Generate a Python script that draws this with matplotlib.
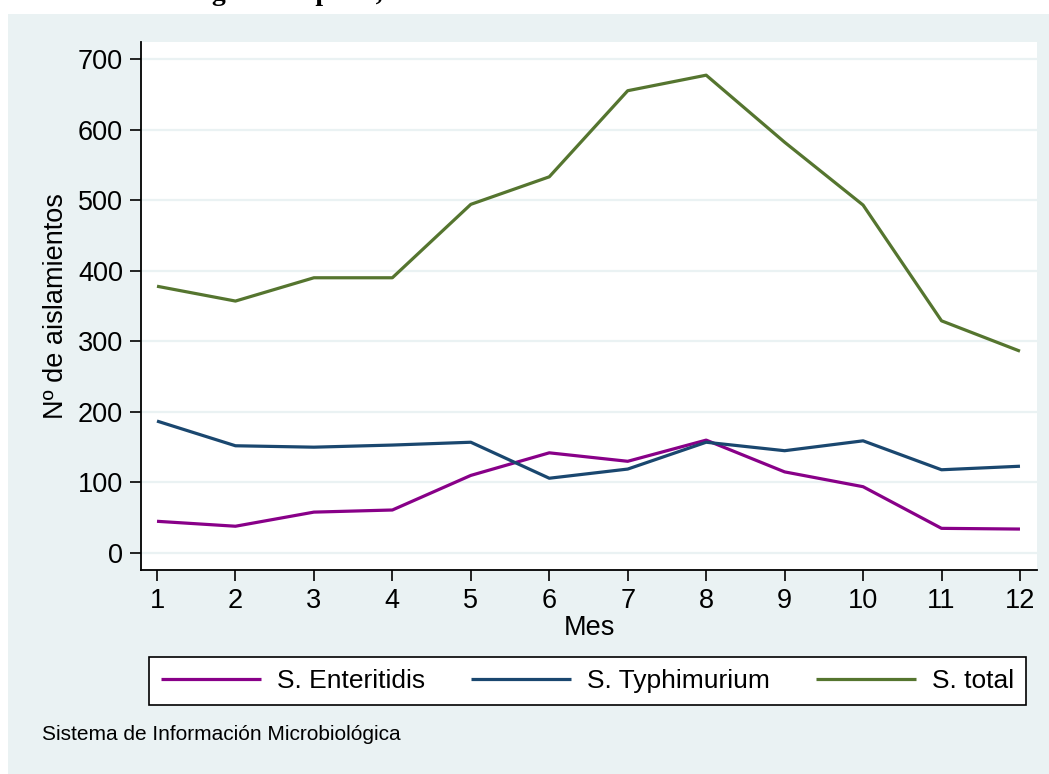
#!/usr/bin/env python3
"""Monthly Salmonella isolations by serotype, Stata-like look."""

import matplotlib
matplotlib.use("Agg")
import matplotlib.pyplot as plt
from matplotlib.patches import Rectangle

MESES = [1, 2, 3, 4, 5, 6, 7, 8, 9, 10, 11, 12]
ENTERITIDIS = [45, 38, 58, 61, 110, 142, 130, 160, 115, 94, 35, 34]
TYPHIMURIUM = [187, 152, 150, 153, 157, 106, 119, 157, 145, 159, 118, 123]
TOTAL = [378, 357, 390, 390, 494, 533, 655, 677, 582, 493, 329, 286]
SERIES = ["S. Enteritidis", "S. Typhimurium", "S. total"]
COLORS = ["#880088", "#1a476f", "#55752f"]
Y_TICKS = [0, 100, 200, 300, 400, 500, 600, 700]

W, H = 1049, 774
PANEL = "#eaf2f3"

plt.rcParams["font.family"] = ["Liberation Sans", "DejaVu Sans"]

fig = plt.figure(figsize=(W / 100, H / 100), dpi=100)
fig.patch.set_facecolor("white")
fig.patches.append(Rectangle((8 / W, 0), 1 - 8 / W, (H - 14) / H,
                             transform=fig.transFigure, facecolor=PANEL,
                             edgecolor="none", zorder=-5))

# title of the page above, only its bottom edge shows
fig.text(29 / W, 1 - 0.5 / H, "Aislamientos según la especie, año",
         family="Liberation Serif", fontweight="bold", fontsize=20,
         ha="left", va="baseline")

ax = fig.add_axes([141 / W, 1 - 570 / H, (1037 - 141) / W, (570 - 42) / H])
ax.set_facecolor("white")
for vals, name, col in zip([ENTERITIDIS, TYPHIMURIUM, TOTAL], SERIES, COLORS):
    ax.plot(MESES, vals, color=col, lw=2.3, label=name, solid_capstyle="butt")

ax.set_xlim(0.796, 12.217)
ax.set_ylim(-24, 724)
ax.set_xticks(MESES)
ax.set_yticks(Y_TICKS)
ax.yaxis.grid(True, color=PANEL, lw=1.6)
ax.set_axisbelow(True)
for side in ["top", "right"]:
    ax.spines[side].set_visible(False)
for side in ["left", "bottom"]:
    ax.spines[side].set_linewidth(1.3)
ax.tick_params(axis="both", direction="out", length=8, width=1.2,
               labelsize=19.5, pad=5)
ax.set_xlabel("Mes", fontsize=19.5, labelpad=1)
ax.set_ylabel("Nº de aislamientos", fontsize=19.5, labelpad=6)

leg = fig.legend(loc="center", ncol=3,
                 bbox_to_anchor=(150 / W, 1 - 705 / H, 875 / W, 48 / H),
                 bbox_transform=fig.transFigure, fontsize=19,
                 frameon=True, fancybox=False, framealpha=1,
                 handlelength=3.8, handletextpad=0.6, columnspacing=1.75,
                 borderpad=0.45, borderaxespad=0)
leg.get_frame().set_edgecolor("black")
leg.get_frame().set_facecolor("white")
leg.get_frame().set_linewidth(1.2)
for line in leg.get_lines():
    line.set_linewidth(2.3)

fig.text(42 / W, 1 - 735 / H, "Sistema de Información Microbiológica",
         fontsize=15, ha="left", va="center")

fig.savefig("out.png", dpi=100)
